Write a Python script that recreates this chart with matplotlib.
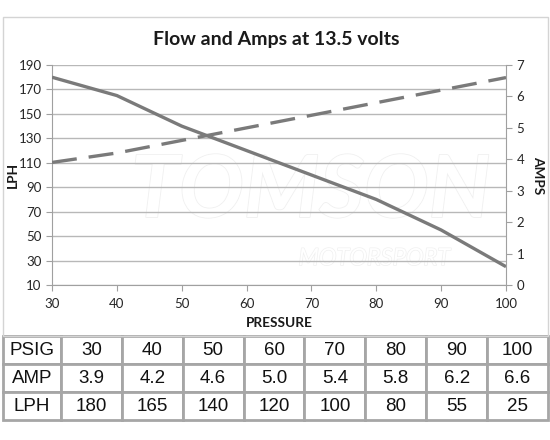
import matplotlib
matplotlib.use("Agg")
import matplotlib.pyplot as plt
from matplotlib.patches import Rectangle
import matplotlib.patheffects as pe

pressure = [30, 40, 50, 60, 70, 80, 90, 100]
amps = [3.9, 4.2, 4.6, 5.0, 5.4, 5.8, 6.2, 6.6]
lph = [180, 165, 140, 120, 100, 80, 55, 25]
lph_ticks = [10, 30, 50, 70, 90, 110, 130, 150, 170, 190]
amp_ticks = [0, 1, 2, 3, 4, 5, 6, 7]
row_labels = ["PSIG", "AMP", "LPH"]
table_rows = [
    [str(v) for v in pressure],
    [f"{v:.1f}" for v in amps],
    [str(v) for v in lph],
]

W, H = 550, 440
fig = plt.figure(figsize=(5.5, 4.4), dpi=100)
fig.patch.set_facecolor("white")

def fx(x):
    return x / W

def fy(y):
    return 1 - y / H

# chart border
fig.patches.append(Rectangle((fx(3), fy(336)), fx(548) - fx(3), fy(17) - fy(336),
                             transform=fig.transFigure, fill=False,
                             edgecolor="#d4d4d4", linewidth=1.0, zorder=0))

FONT = "Lato"
line_col = "#7a7a7a"
grid_col = "#b8b8b8"
txt_col = "#262626"
TICK_FS = 9.5

ax = fig.add_axes([fx(52), fy(285), fx(506) - fx(52), fy(65) - fy(285)])
ax.set_xlim(30, 100)
ax.set_ylim(10, 190)
ax.set_xticks(pressure)
ax.set_yticks(lph_ticks)
ax.grid(axis="y", color=grid_col, linewidth=1.0)
ax.set_axisbelow(True)
for s in ["top", "right"]:
    ax.spines[s].set_visible(False)
for s in ["left", "bottom"]:
    ax.spines[s].set_color("#a0a0a0")
ax.tick_params(colors="#a0a0a0", labelcolor=txt_col, length=4, labelsize=TICK_FS)
ax.tick_params(axis="x", pad=5)
for lab in ax.get_xticklabels() + ax.get_yticklabels():
    lab.set_fontfamily(FONT)

# watermark
ax.text(0.57, 0.42, "TOMSON", transform=ax.transAxes, ha="center", va="center",
        fontsize=62, fontweight="bold", fontstyle="italic", family=FONT,
        color="white", zorder=0.5,
        path_effects=[pe.Stroke(linewidth=1.2, foreground="#f0f0f0"), pe.Normal()])
ax.text(0.71, 0.12, "MOTORSPORT", transform=ax.transAxes, ha="center", va="center",
        fontsize=17, fontstyle="italic", family=FONT,
        color="white", zorder=0.5,
        path_effects=[pe.Stroke(linewidth=1.0, foreground="#f0f0f0"), pe.Normal()])

ax.plot(pressure, lph, color=line_col, linewidth=2.4, solid_joinstyle="round",
        solid_capstyle="butt", zorder=3)

ax2 = ax.twinx()
ax2.set_ylim(0, 7)
ax2.set_yticks(amp_ticks)
for s in ["top", "left", "bottom"]:
    ax2.spines[s].set_visible(False)
ax2.spines["right"].set_color("#a0a0a0")
ax2.tick_params(colors="#a0a0a0", labelcolor=txt_col, length=4, labelsize=TICK_FS)
for lab in ax2.get_yticklabels():
    lab.set_fontfamily(FONT)
ax2.plot(pressure, amps, color=line_col, linewidth=2.4, linestyle=(0, (7.5, 3.6)),
         dash_capstyle="butt", zorder=3)

fig.text(fx(276), fy(40), "Flow and Amps at 13.5 volts", ha="center", va="center",
         fontsize=14, fontweight="bold", family=FONT, color="#1a1a1a")
fig.text(fx(279), fy(323), "PRESSURE", ha="center", va="center",
         fontsize=9.8, fontweight="bold", family=FONT, color="#1a1a1a")
fig.text(fx(13), fy(175), "LPH", ha="center", va="center", rotation=90,
         fontsize=9.8, fontweight="bold", family=FONT, color="#1a1a1a")
fig.text(fx(538), fy(175), "AMPS", ha="center", va="center", rotation=270,
         fontsize=9.8, fontweight="bold", family=FONT, color="#1a1a1a")

# data table
tax = fig.add_axes([fx(3), fy(420), fx(548) - fx(3), fy(336) - fy(420)])
tax.axis("off")
cells = [[row_labels[i]] + table_rows[i] for i in range(3)]
total = 545.0
col_w = [58 / total] + [61 / total] * 8
tbl = tax.table(cellText=cells, colWidths=col_w, bbox=[0, 0, 1, 1], cellLoc="center")
tbl.auto_set_font_size(False)
for (r, c), cell in tbl.get_celld().items():
    cell.set_edgecolor("#a6a6a6")
    cell.set_linewidth(2.0)
    cell.get_text().set_fontsize(13.5)
    cell.get_text().set_fontfamily("Liberation Sans")
    cell.get_text().set_color("#111111")

fig.savefig("out.png", dpi=100, facecolor="white")
